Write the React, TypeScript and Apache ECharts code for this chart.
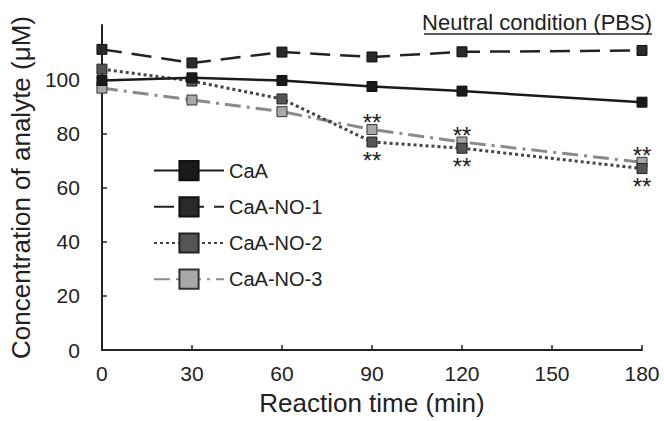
import React, { useEffect, useRef } from "react";
import * as echarts from "echarts";

const times = [0, 30, 60, 90, 120, 180];
const caA = [99.5, 100.5, 99.5, 97.3, 95.6, 91.5];
const caANO1 = [111, 106, 110, 108.2, 110.1, 110.6];
const caANO2 = [103.7, 99.3, 92.7, 76.8, 74.5, 67];
const caANO3 = [96.7, 92.3, 88, 81.4, 76.8, 69.3];
// significance marks (indices into times)
const starIdx = [3, 4, 5];
const starText = "**";
const seriesNames = ["CaA", "CaA-NO-1", "CaA-NO-2", "CaA-NO-3"];
const titleText = "Neutral condition (PBS)";
const xName = "Reaction time (min)";
const yName = "Concentration of analyte (\u03bcM)";

const FONT = "'Liberation Sans', Arial, sans-serif";

function build(values: number[], starOffset: number | null) {
  return values.map((v, i) => {
    const item: any = { value: [times[i], v] };
    if (starOffset !== null && starIdx.includes(i)) {
      item.label = {
        show: true,
        formatter: starText,
        position: "inside",
        offset: [0, starOffset],
        fontSize: 24,
        fontFamily: FONT,
        color: "#222",
      };
    }
    return item;
  });
}

export default function App() {
  const ref = useRef<HTMLDivElement>(null);
  useEffect(() => {
    if (!ref.current) return;
    const chart = echarts.init(ref.current, null, { renderer: "svg" });
    chart.setOption({
      animation: false,
      backgroundColor: "#fff",
      grid: { left: 94, right: 22, top: 25, bottom: 68, containLabel: false },
      graphic: [
        {
          type: "text",
          right: 12,
          top: 11,
          style: { text: titleText, font: `22px ${FONT}`, fill: "#222" },
        },
        {
          type: "line",
          shape: { x1: 424, y1: 34, x2: 652, y2: 34 },
          style: { stroke: "#222", lineWidth: 1.5 },
        },
      ],
      legend: {
        orient: "vertical",
        left: 148,
        top: 155,
        itemWidth: 70,
        itemHeight: 24,
        itemGap: 15,
        textStyle: { fontSize: 20, fontFamily: FONT, color: "#222" },
        data: seriesNames,
      },
      xAxis: {
        type: "value",
        min: 0,
        max: 180,
        interval: 30,
        name: xName,
        nameLocation: "middle",
        nameGap: 40,
        nameTextStyle: { fontSize: 26, fontFamily: FONT, color: "#222" },
        axisLine: { lineStyle: { color: "#222", width: 2 } },
        axisTick: { inside: true, length: 5, lineStyle: { color: "#222", width: 1.5 } },
        axisLabel: { fontSize: 21, fontFamily: FONT, color: "#222", margin: 13 },
        splitLine: { show: false },
      },
      yAxis: {
        type: "value",
        min: 0,
        max: 120,
        interval: 20,
        name: yName,
        nameLocation: "middle",
        nameGap: 57,
        nameTextStyle: { fontSize: 26, fontFamily: FONT, color: "#222" },
        axisLine: { show: true, lineStyle: { color: "#222", width: 2 } },
        axisTick: { show: true, inside: true, length: 5, lineStyle: { color: "#222", width: 1.5 } },
        axisLabel: { fontSize: 21, fontFamily: FONT, color: "#222", margin: 22, showMaxLabel: false },
        splitLine: { show: false },
      },
      series: [
        {
          name: seriesNames[3],
          type: "line",
          data: build(caANO3, -7),
          symbol: "rect",
          symbolSize: 10,
          lineStyle: { color: "#8a8a8a", width: 3, type: [16, 6, 3, 6] },
          itemStyle: { color: "#a8a8a8", borderColor: "#333", borderWidth: 1 },
          z: 2,
        },
        {
          name: seriesNames[2],
          type: "line",
          data: build(caANO2, 18),
          symbol: "rect",
          symbolSize: 10,
          lineStyle: { color: "#444", width: 3, type: [3, 3] },
          itemStyle: { color: "#555", borderColor: "#222", borderWidth: 1 },
          z: 3,
        },
        {
          name: seriesNames[1],
          type: "line",
          data: build(caANO1, null),
          symbol: "rect",
          symbolSize: 10,
          lineStyle: { color: "#222", width: 2.5, type: [20, 10] },
          itemStyle: { color: "#2a2a2a", borderColor: "#111", borderWidth: 1 },
          z: 4,
        },
        {
          name: seriesNames[0],
          type: "line",
          data: build(caA, null),
          symbol: "rect",
          symbolSize: 10,
          lineStyle: { color: "#1a1a1a", width: 2.5, type: "solid" },
          itemStyle: { color: "#1a1a1a", borderColor: "#111", borderWidth: 1 },
          z: 5,
        },
      ],
    });
    return () => chart.dispose();
  }, []);
  return (
    <div
      ref={ref}
      style={{ position: "fixed", left: 0, top: 0, width: 664, height: 421 }}
    />
  );
}
